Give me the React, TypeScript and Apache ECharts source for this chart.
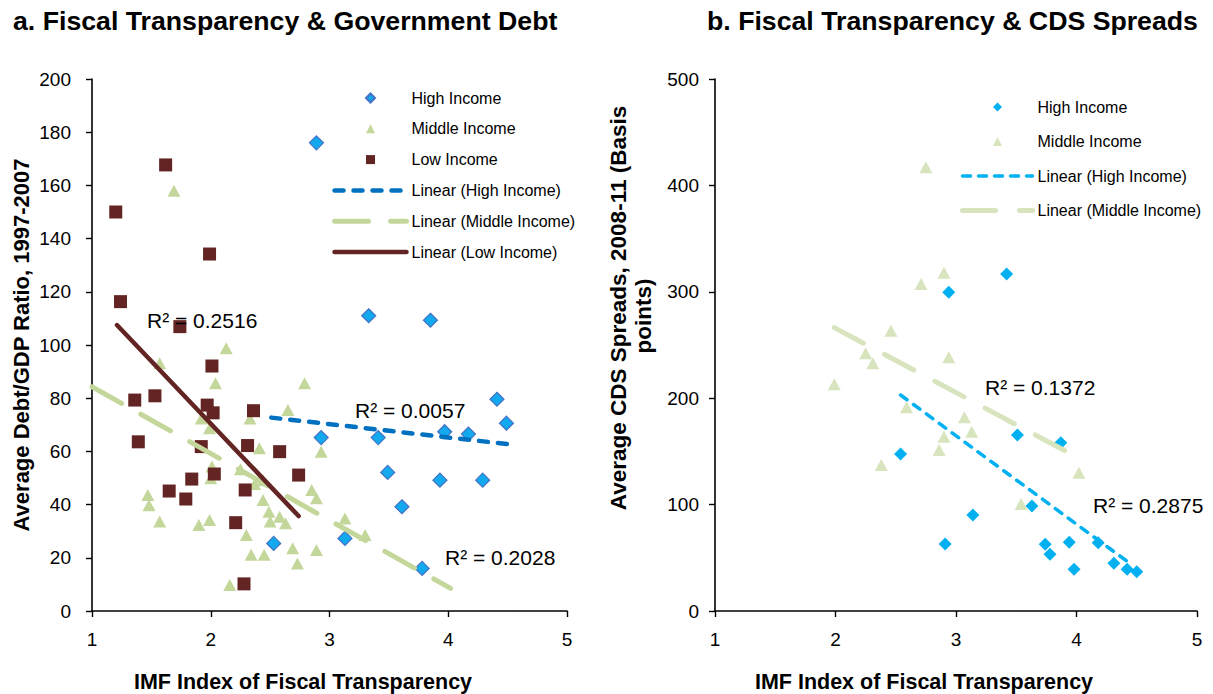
import { useEffect, useRef } from "react";
import * as echarts from "echarts";

// ---------- Panel a: Fiscal Transparency & Government Debt ----------
const debtHigh: number[][] = [
  [2.89, 176], [3.33, 111], [3.85, 109.3], [4.41, 79.6], [4.49, 70.6], [2.93, 65.2],
  [3.41, 65.2], [3.97, 67.4], [4.17, 66.5], [3.49, 52.1], [3.93, 49.2], [4.29, 49.2],
  [3.61, 39.2], [2.53, 25.4], [3.13, 27.3], [3.78, 16.0],
];
const debtMiddle: number[][] = [
  [1.69, 158], [2.13, 98.8], [1.57, 93.1], [2.04, 85.6], [2.79, 85.6], [2.65, 75.6],
  [2.33, 72.4], [1.92, 72.4], [1.99, 68.7], [2.93, 59.9], [2.41, 61.2], [2.01, 54.3],
  [2.0, 49.9], [2.25, 53.3], [2.37, 47.7], [2.44, 49.2], [2.85, 45.5], [2.89, 42.4],
  [1.47, 43.6], [1.48, 39.8], [2.44, 41.7], [2.49, 37.3], [2.58, 35.4], [2.63, 33.0],
  [2.5, 33.6], [3.13, 34.8], [1.57, 33.6], [1.9, 32.3], [1.99, 34.2], [2.3, 28.6],
  [3.3, 28.6], [2.34, 21.1], [2.45, 21.1], [2.69, 23.6], [2.73, 17.9], [2.89, 22.9],
  [2.16, 9.8],
];
const debtLow: number[][] = [
  [1.2, 150], [1.24, 116.3], [1.62, 167.7], [1.99, 134.2], [1.74, 106.9], [2.01, 92.1],
  [1.36, 79.3], [1.53, 80.9], [1.97, 77.4], [2.02, 74.5], [2.36, 75.3], [1.39, 63.6],
  [1.92, 61.8], [2.31, 62.2], [2.58, 59.9], [2.03, 51.5], [1.84, 49.6], [2.74, 51.1],
  [1.65, 45.1], [1.79, 42.1], [2.29, 45.5], [2.21, 33.2], [2.28, 10.2],
];
const debtTrendHigh: number[][] = [[2.51, 72.7], [4.51, 62.7]];
const debtTrendMiddle: number[][] = [[1.0, 84.3], [4.02, 8.5]];
const debtTrendLow: number[][] = [[1.21, 107.5], [2.74, 35.7]];
const debtR2 = ["R² = 0.2516", "R² = 0.0057", "R² = 0.2028"];

// ---------- Panel b: Fiscal Transparency & CDS Spreads ----------
const cdsHigh: number[][] = [
  [3.42, 316.7], [2.94, 299.5], [3.51, 165.4], [3.87, 158.2], [2.54, 147.6], [3.63, 98.7],
  [3.14, 90.2], [2.91, 63], [3.74, 62.7], [3.78, 53.3], [3.94, 64.6], [3.98, 39.2],
  [4.18, 64.2], [4.31, 44.8], [4.42, 39.2], [4.5, 37],
];
const cdsMiddle: number[][] = [
  [2.75, 417], [2.9, 318], [2.71, 307.3], [2.46, 263.4], [2.94, 238.4], [2.25, 242.2],
  [2.31, 232.8], [1.99, 213], [2.59, 191.4], [3.07, 182], [3.13, 168.5], [2.9, 163.8],
  [2.86, 151.3], [2.38, 137.2], [4.02, 130], [3.54, 100.6],
];
const cdsTrendHigh: number[][] = [[2.54, 203], [4.45, 44.2]];
const cdsTrendMiddle: number[][] = [[1.99, 266.3], [3.92, 149.7]];
const cdsR2 = ["R² = 0.1372", "R² = 0.2875"];

// ---------- Texts ----------
const titleA = "a. Fiscal Transparency & Government Debt";
const titleB = "b. Fiscal Transparency & CDS Spreads";
const xName = "IMF Index of Fiscal Transparency";
const yNameA = "Average Debt/GDP Ratio, 1997-2007";
const yNameB1 = "Average CDS Spreads, 2008-11 (Basis";
const yNameB2 = "points)";
const legendA = [
  "High Income", "Middle Income", "Low Income",
  "Linear (High Income)", "Linear (Middle Income)", "Linear (Low Income)",
];
// trailing space keeps panel-b legend entries bound to panel-b series
const legendB = ["High Income ", "Middle Income ", "Linear (High Income) ", "Linear (Middle Income) "];

const FONT = "Liberation Sans, Arial, Helvetica, sans-serif";

const ICON_DIAMOND = "path://M0,-1L1,0L0,1L-1,0Z";
const ICON_TRIANGLE = "path://M0,-1L1,1L-1,1Z";
const ICON_SQUARE = "path://M0,0L1,0L1,1L0,1Z";

const axisCommon = {
  axisLine: { show: true, lineStyle: { color: "#000", width: 1.6 } },
  axisTick: { show: true, inside: false, length: 6, lineStyle: { color: "#000", width: 1.4 } },
  splitLine: { show: false },
};

export default function App() {
  const ref = useRef<HTMLDivElement>(null);

  useEffect(() => {
    document.body.style.margin = "0";
    const chart = echarts.init(ref.current!, undefined, { renderer: "svg" });

    const labelStyle = { color: "#000", fontSize: 19, fontFamily: FONT };
    const legendText = { color: "#000", fontSize: 16, fontFamily: FONT };

    const lsHighA = { color: "#0070C0", width: 4.5, type: [9, 10], cap: "round" };
    const lsMidA = { color: "#C4D79B", width: 5, type: [34, 22], cap: "round" };
    const lsLowA = { color: "#632523", width: 4.5, type: "solid", cap: "round" };
    const lsHighB = { color: "#00B0F0", width: 3.5, type: [8, 8], cap: "round" };
    const lsMidB = { color: "#D7E4BD", width: 5, type: [33, 24], cap: "round" };
    const hidden = { opacity: 0 };

    const option: any = {
      animation: false,
      backgroundColor: "#fff",
      textStyle: { fontFamily: FONT },
      grid: [
        { left: 92, top: 79, width: 475, height: 532 },
        { left: 715, top: 79, width: 482, height: 532 },
      ],
      xAxis: [
        { type: "value", gridIndex: 0, min: 1, max: 5, interval: 1, ...axisCommon, axisLabel: { ...labelStyle, margin: 19 } },
        { type: "value", gridIndex: 1, min: 1, max: 5, interval: 1, ...axisCommon, axisLabel: { ...labelStyle, margin: 19 } },
      ],
      yAxis: [
        { type: "value", gridIndex: 0, min: 0, max: 200, interval: 20, ...axisCommon, axisLabel: { ...labelStyle, margin: 21 } },
        { type: "value", gridIndex: 1, min: 0, max: 500, interval: 100, ...axisCommon, axisLabel: { ...labelStyle, margin: 16 } },
      ],
      legend: [
        {
          orient: "vertical", left: 332, top: 90, padding: 0, itemWidth: 72, itemHeight: 9, itemGap: 14.8,
          symbolKeepAspect: true, selectedMode: false, textStyle: legendText,
          data: [
            { name: legendA[0], icon: ICON_DIAMOND },
            { name: legendA[1], icon: ICON_TRIANGLE },
            { name: legendA[2], icon: ICON_SQUARE },
            { name: legendA[3], itemStyle: hidden, lineStyle: lsHighA },
            { name: legendA[4], itemStyle: hidden, lineStyle: lsMidA },
            { name: legendA[5], itemStyle: hidden, lineStyle: lsLowA },
          ],
        },
        {
          orient: "vertical", left: 960, top: 99, padding: 0, itemWidth: 70, itemHeight: 9, itemGap: 18.5,
          symbolKeepAspect: true, selectedMode: false, textStyle: legendText,
          formatter: (n: string) => n.trim(),
          data: [
            { name: legendB[0], icon: ICON_DIAMOND },
            { name: legendB[1], icon: ICON_TRIANGLE },
            { name: legendB[2], itemStyle: hidden, lineStyle: lsHighB },
            { name: legendB[3], itemStyle: hidden, lineStyle: lsMidB },
          ],
        },
      ],
      series: [
        {
          name: legendA[0], type: "scatter", xAxisIndex: 0, yAxisIndex: 0, data: debtHigh,
          symbol: "diamond", symbolSize: 14, silent: true,
          itemStyle: { color: "#12A9EE", borderColor: "#4472C4", borderWidth: 1.2, opacity: 1 },
        },
        {
          name: legendA[1], type: "scatter", xAxisIndex: 0, yAxisIndex: 0, data: debtMiddle,
          symbol: "triangle", symbolSize: [13, 12], silent: true,
          itemStyle: { color: "#C4D79B", opacity: 1 },
        },
        {
          name: legendA[2], type: "scatter", xAxisIndex: 0, yAxisIndex: 0, data: debtLow,
          symbol: "rect", symbolSize: 13, silent: true,
          itemStyle: { color: "#632523", opacity: 1 },
        },
        {
          name: legendA[3], type: "line", xAxisIndex: 0, yAxisIndex: 0, data: debtTrendHigh,
          symbol: "none", silent: true, z: 5, lineStyle: lsHighA, itemStyle: { color: lsHighA.color },
        },
        {
          name: legendA[4], type: "line", xAxisIndex: 0, yAxisIndex: 0, data: debtTrendMiddle,
          symbol: "none", silent: true, z: 5, lineStyle: lsMidA, itemStyle: { color: lsMidA.color },
        },
        {
          name: legendA[5], type: "line", xAxisIndex: 0, yAxisIndex: 0, data: debtTrendLow,
          symbol: "none", silent: true, z: 5, lineStyle: lsLowA, itemStyle: { color: lsLowA.color },
        },
        {
          name: legendB[0], type: "scatter", xAxisIndex: 1, yAxisIndex: 1, data: cdsHigh,
          symbol: "diamond", symbolSize: 13, silent: true,
          itemStyle: { color: "#00B0F0", opacity: 1 },
        },
        {
          name: legendB[1], type: "scatter", xAxisIndex: 1, yAxisIndex: 1, data: cdsMiddle,
          symbol: "triangle", symbolSize: [13, 12], silent: true,
          itemStyle: { color: "#D7E4BD", opacity: 1 },
        },
        {
          name: legendB[2], type: "line", xAxisIndex: 1, yAxisIndex: 1, data: cdsTrendHigh,
          symbol: "none", silent: true, z: 5, lineStyle: lsHighB, itemStyle: { color: lsHighB.color },
        },
        {
          name: legendB[3], type: "line", xAxisIndex: 1, yAxisIndex: 1, data: cdsTrendMiddle,
          symbol: "none", silent: true, z: 5, lineStyle: lsMidB, itemStyle: { color: lsMidB.color },
        },
      ],
      graphic: [
        { type: "text", x: 13, y: 21, style: { text: titleA, fill: "#000", fontSize: 26.7, fontWeight: "bold", fontFamily: FONT, align: "left", verticalAlign: "middle" } },
        { type: "text", x: 707, y: 21, style: { text: titleB, fill: "#000", fontSize: 26.7, fontWeight: "bold", fontFamily: FONT, align: "left", verticalAlign: "middle" } },
        { type: "text", x: 303, y: 682, style: { text: xName, fill: "#000", fontSize: 21.5, fontWeight: "bold", fontFamily: FONT, align: "center", verticalAlign: "middle" } },
        { type: "text", x: 924, y: 682, style: { text: xName, fill: "#000", fontSize: 21.5, fontWeight: "bold", fontFamily: FONT, align: "center", verticalAlign: "middle" } },
        { type: "text", x: 21, y: 345, rotation: Math.PI / 2, style: { text: yNameA, fill: "#000", fontSize: 22, fontWeight: "bold", fontFamily: FONT, align: "center", verticalAlign: "middle" } },
        { type: "text", x: 618, y: 308, rotation: Math.PI / 2, style: { text: yNameB1, fill: "#000", fontSize: 22.5, fontWeight: "bold", fontFamily: FONT, align: "center", verticalAlign: "middle" } },
        { type: "text", x: 643, y: 316, rotation: Math.PI / 2, style: { text: yNameB2, fill: "#000", fontSize: 22.5, fontWeight: "bold", fontFamily: FONT, align: "center", verticalAlign: "middle" } },
        { type: "text", x: 147, y: 320, z: 10, style: { text: debtR2[0], fill: "#000", fontSize: 21, fontFamily: FONT, align: "left", verticalAlign: "middle" } },
        { type: "text", x: 355, y: 410, z: 10, style: { text: debtR2[1], fill: "#000", fontSize: 21, fontFamily: FONT, align: "left", verticalAlign: "middle" } },
        { type: "text", x: 445, y: 557, z: 10, style: { text: debtR2[2], fill: "#000", fontSize: 21, fontFamily: FONT, align: "left", verticalAlign: "middle" } },
        { type: "text", x: 985, y: 387, z: 10, style: { text: cdsR2[0], fill: "#000", fontSize: 21, fontFamily: FONT, align: "left", verticalAlign: "middle" } },
        { type: "text", x: 1093, y: 505, z: 10, style: { text: cdsR2[1], fill: "#000", fontSize: 21, fontFamily: FONT, align: "left", verticalAlign: "middle" } },
      ],
    };

    chart.setOption(option);
    return () => chart.dispose();
  }, []);

  return <div ref={ref} style={{ width: 1213, height: 694 }} />;
}
